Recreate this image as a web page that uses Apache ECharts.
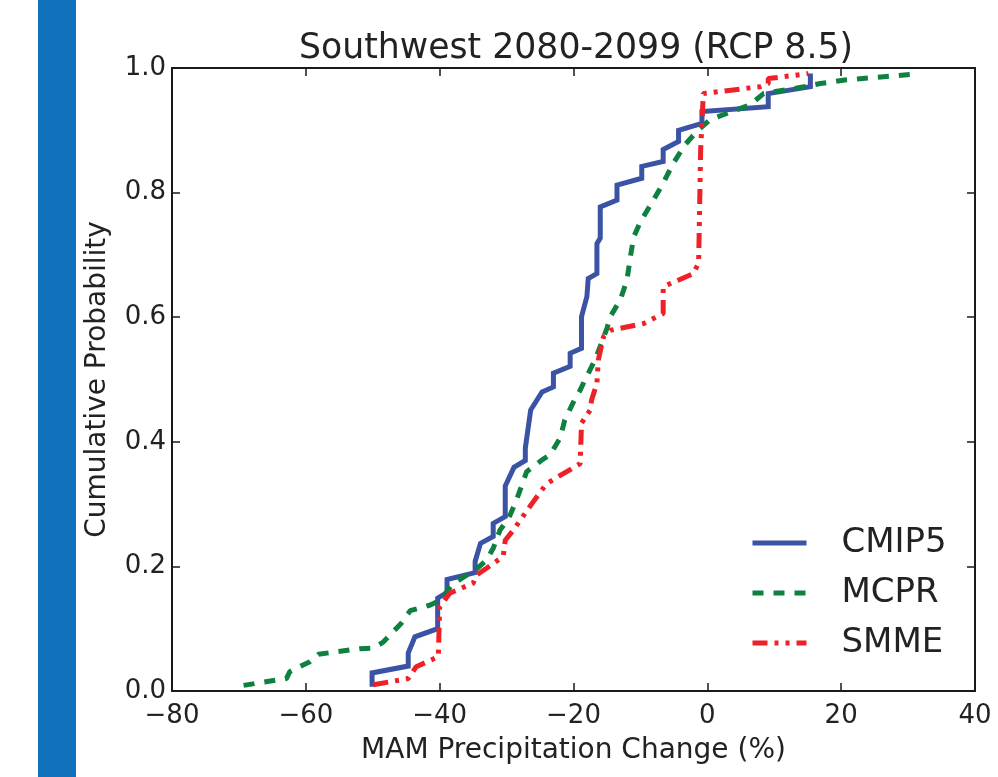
<!DOCTYPE html>
<html lang="en">
<head>
    <meta charset="UTF-8">
    <title>Southwest 2080-2099 (RCP 8.5)</title>
    <script src="https://cdn.jsdelivr.net/npm/echarts@6/dist/echarts.min.js" charset="utf-8"></script>
    <style>
        html, body {margin: 0; padding: 0; background: #fff;}
        #main {width: 998px; height: 777px;}
    </style>
</head>
<body>
<div id="main"></div>
<script>
    // 数据：[降水变化 %, 累积概率]
    var xTicks = [-80, -60, -40, -20, 0, 20, 40];
    var yTicks = [0.0, 0.2, 0.4, 0.6, 0.8, 1.0];
    var seriesNames = ['CMIP5', 'MCPR', 'SMME'];

    var cmip5 = [
        [-50.1, 0.007], [-50.1, 0.029], [-44.7, 0.040], [-44.7, 0.061], [-43.7, 0.087], [-40.3, 0.100],
        [-40.3, 0.149], [-38.9, 0.158], [-38.9, 0.179], [-34.7, 0.190], [-34.7, 0.208], [-33.9, 0.237],
        [-32.0, 0.248], [-32.0, 0.269], [-30.2, 0.280], [-30.2, 0.329], [-28.9, 0.359], [-27.2, 0.370],
        [-27.2, 0.390], [-26.4, 0.451], [-24.7, 0.480], [-23.0, 0.488], [-23.0, 0.510], [-20.5, 0.521],
        [-20.5, 0.542], [-18.8, 0.550], [-18.8, 0.601], [-18.0, 0.633], [-17.8, 0.662], [-16.5, 0.670],
        [-16.5, 0.718], [-16.0, 0.727], [-16.0, 0.777], [-13.5, 0.788], [-13.5, 0.812], [-9.8, 0.823],
        [-9.8, 0.842], [-6.6, 0.850], [-6.6, 0.869], [-4.3, 0.882], [-4.3, 0.900], [-0.8, 0.911],
        [-0.8, 0.930], [9.1, 0.938], [9.1, 0.959], [15.4, 0.970], [15.4, 0.991]
    ];
    var mcpr = [
        [-69.3, 0.009], [-62.9, 0.020], [-62.4, 0.031], [-59.4, 0.047], [-58.1, 0.059], [-51.9, 0.068],
        [-49.9, 0.069], [-48.5, 0.078], [-45.7, 0.109], [-44.4, 0.129], [-41.4, 0.138], [-39.9, 0.146],
        [-38.2, 0.170], [-36.4, 0.183], [-34.7, 0.194], [-33.0, 0.210], [-32.0, 0.229], [-31.0, 0.258],
        [-29.7, 0.277], [-28.5, 0.307], [-27.0, 0.352], [-24.7, 0.371], [-23.5, 0.379], [-22.0, 0.406],
        [-21.3, 0.435], [-20.0, 0.464], [-19.0, 0.483], [-18.3, 0.499], [-16.8, 0.531], [-15.0, 0.582],
        [-14.5, 0.601], [-13.0, 0.628], [-12.0, 0.660], [-11.5, 0.697], [-11.0, 0.729], [-10.0, 0.753],
        [-8.5, 0.780], [-6.6, 0.815], [-5.2, 0.845], [-3.4, 0.876], [-1.6, 0.898], [0.4, 0.917],
        [2.9, 0.927], [6.4, 0.941], [8.4, 0.959], [12.9, 0.967], [16.9, 0.975], [20.8, 0.981], [30.8, 0.990]
    ];
    var smme = [
        [-49.9, 0.010], [-44.7, 0.020], [-43.5, 0.039], [-40.2, 0.055], [-40.0, 0.135], [-38.5, 0.157],
        [-35.0, 0.173], [-34.5, 0.186], [-33.0, 0.197], [-30.5, 0.216], [-30.2, 0.242], [-29.0, 0.258],
        [-26.0, 0.304], [-24.7, 0.323], [-24.0, 0.333], [-19.0, 0.365], [-18.8, 0.430], [-17.5, 0.451],
        [-17.3, 0.467], [-16.5, 0.494], [-16.3, 0.531], [-15.5, 0.569], [-14.5, 0.579], [-9.5, 0.590],
        [-6.6, 0.606], [-6.6, 0.649], [-2.1, 0.670], [-1.3, 0.687], [-1.0, 0.868], [-0.6, 0.959],
        [7.9, 0.970], [9.1, 0.975], [9.1, 0.983], [15.1, 0.991]
    ];

    var myChart = echarts.init(document.getElementById('main'));
    var font = 'DejaVu Sans';
    var axisColor = '#1a1a1a';

    function xAxisOf(pos, showLabel) {
        return {
            type: 'value',
            position: pos,
            min: xTicks[0],
            max: xTicks[xTicks.length - 1],
            interval: 20,
            name: showLabel ? 'MAM Precipitation Change (%)' : '',
            nameLocation: 'middle',
            nameGap: 46,
            nameTextStyle: {fontFamily: font, fontSize: 28, color: '#222'},
            axisLine: {show: true, onZero: false, lineStyle: {color: axisColor, width: 2}},
            axisTick: {show: true, inside: true, length: 8, lineStyle: {color: axisColor, width: 1.5}},
            axisLabel: {
                show: showLabel,
                margin: 12,
                fontFamily: font,
                fontSize: 26,
                color: '#222',
                formatter: function (v) {return String(v).replace('-', '\u2212');}
            },
            splitLine: {show: false}
        };
    }

    function yAxisOf(pos, showLabel) {
        return {
            type: 'value',
            position: pos,
            min: yTicks[0],
            max: yTicks[yTicks.length - 1],
            interval: 0.2,
            name: showLabel ? 'Cumulative Probability' : '',
            nameLocation: 'middle',
            nameGap: 60,
            nameTextStyle: {fontFamily: font, fontSize: 28, color: '#222'},
            axisLine: {show: true, onZero: false, lineStyle: {color: axisColor, width: 2}},
            axisTick: {show: true, inside: true, length: 8, lineStyle: {color: axisColor, width: 1.5}},
            axisLabel: {
                show: showLabel,
                margin: 6,
                fontFamily: font,
                fontSize: 26,
                color: '#222',
                formatter: function (v) {return v.toFixed(1);}
            },
            splitLine: {show: false}
        };
    }

    var option = {
        animation: false,
        backgroundColor: '#fff',
        title: {
            text: 'Southwest 2080-2099 (RCP 8.5)',
            left: 571,
            textAlign: 'center',
            top: 26,
            textStyle: {fontFamily: font, fontSize: 34.7, fontWeight: 'normal', color: '#222'}
        },
        graphic: [{
            type: 'rect',
            left: 38,
            top: 0,
            shape: {width: 38, height: 777},
            style: {fill: '#1172BB'},
            silent: true
        }],
        grid: {left: 172, right: 23, top: 68, bottom: 86},
        legend: {
            orient: 'vertical',
            left: 745,
            top: 521,
            itemWidth: 54,
            itemHeight: 14,
            itemGap: 16,
            itemStyle: {opacity: 0},
            lineStyle: {width: 5},
            textStyle: {fontFamily: font, fontSize: 34, color: '#222', padding: [0, 0, 0, 30]},
            data: seriesNames
        },
        xAxis: [xAxisOf('bottom', true), xAxisOf('top', false)],
        yAxis: [yAxisOf('left', true), yAxisOf('right', false)],
        series: [{
            name: seriesNames[0],
            type: 'line',
            data: cmip5,
            showSymbol: false,
            symbol: 'none',
            lineStyle: {color: '#3A53A4', width: 5, join: 'miter'},
            itemStyle: {color: '#3A53A4'},
            z: 3
        }, {
            name: seriesNames[1],
            type: 'line',
            data: mcpr,
            showSymbol: false,
            symbol: 'none',
            lineStyle: {color: '#0E8040', width: 5, type: [11, 10]},
            itemStyle: {color: '#0E8040'},
            z: 4
        }, {
            name: seriesNames[2],
            type: 'line',
            data: smme,
            showSymbol: false,
            symbol: 'none',
            lineStyle: {color: '#EE2128', width: 5, type: [15, 7, 4, 7, 4, 7]},
            itemStyle: {color: '#EE2128'},
            z: 5
        }]
    };

    myChart.setOption(option);
</script>
</body>
</html>
